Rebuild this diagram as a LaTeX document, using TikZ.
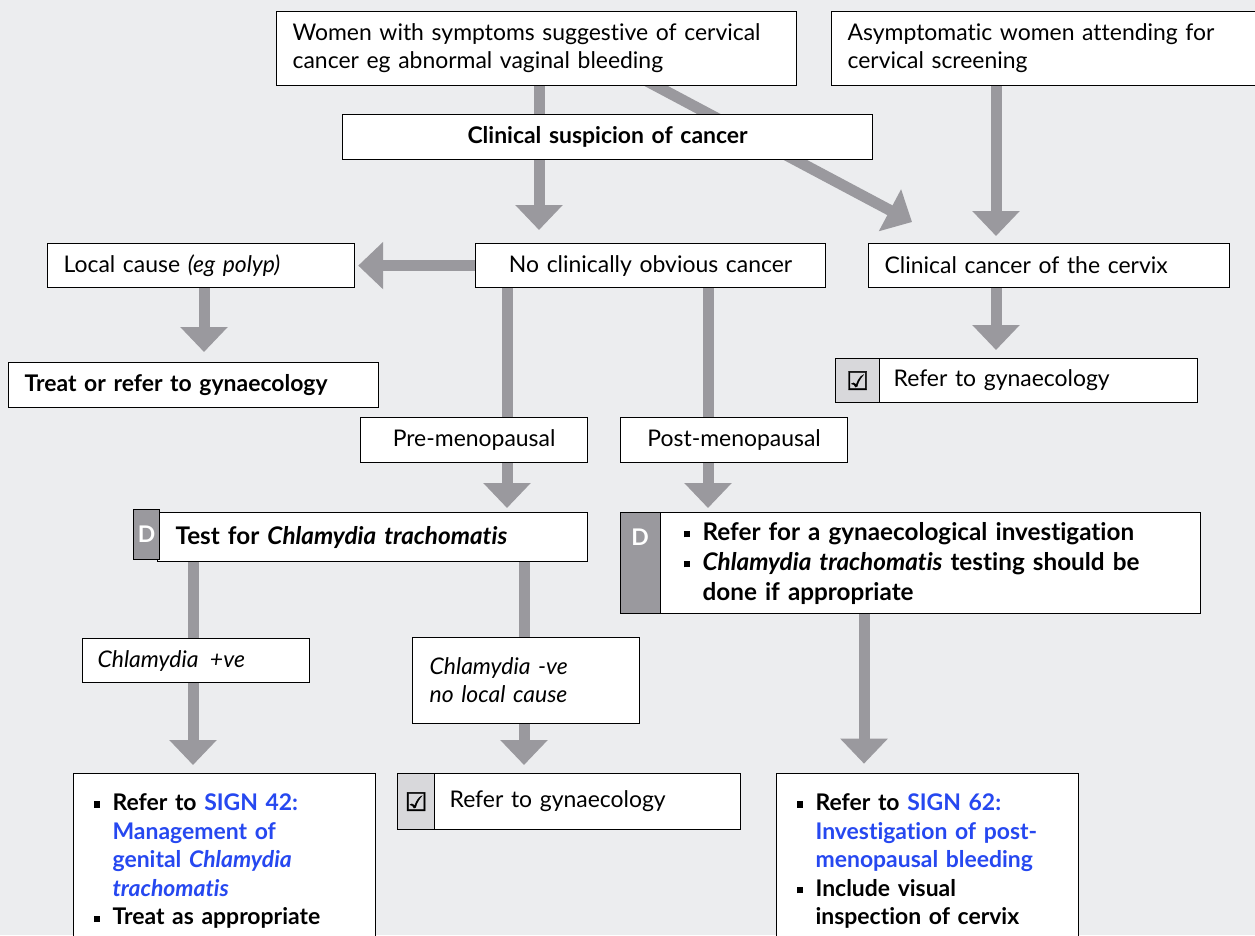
\documentclass[tikz,border=0pt]{standalone}
\usepackage{fontspec}
\setmainfont{Lato}[Ligatures={NoCommon,NoRequired,NoContextual}]
\newfontfamily\symfont{DejaVu Sans}[FakeBold=1.6]
\usetikzlibrary{arrows.meta,calc}
\pgfdeclarelayer{back}\pgfdeclarelayer{conn}
\pgfsetlayers{back,conn,main}
\definecolor{bgc}{RGB}{236,237,239}
\definecolor{ag}{RGB}{154,153,158}
\definecolor{lg}{RGB}{216,216,219}
\definecolor{sign}{RGB}{38,72,240}
\newcommand\xbox[8]{%
  \pgfmathsetmacro\bxw{(#4-#2)*0.75}%
  \pgfmathsetmacro\bxh{(#5-#3)*0.75}%
  \pgfmathsetmacro\bxt{(#4-#2-2*#6)*0.75}%
  \pgfmathsetmacro\bxp{#6*0.75}%
  \node[box,anchor=north west,inner xsep=\bxp pt,text width=\bxt pt,minimum width=\bxw pt,minimum height=\bxh pt,#7] (#1) at (#2,#3) {#8};}
\newcommand\bul{\makebox[14.25pt][l]{\rule[2pt]{4.8pt}{4.8pt}}}
\newcommand\ind{\hspace*{14.25pt}}
\begin{document}
\begin{tikzpicture}[x=0.75pt,y=-0.75pt,
  box/.style={draw=black,line width=0.9pt,fill=white,inner ysep=0pt,font=\fontsize{17.2}{21}\selectfont},
  dcell/.style={fill=ag,text=white,font=\fontsize{17.2}{21}\selectfont\bfseries,align=center},
  ccell/.style={fill=lg,font=\fontsize{19}{18}\symfont,align=center},
  arr/.style={draw=ag,line width=8.25pt,-{Triangle[width=34.5pt,length=18.75pt]}},
  ln/.style={draw=ag,line width=8.25pt}]
\begin{pgfonlayer}{back}
\fill[bgc] (0,0) rectangle (1255,935);
\end{pgfonlayer}
\useasboundingbox (0,0) rectangle (1255,935);
% boxes
\xbox{women}{276}{11}{796}{85}{16}{align=left}{Women with symptoms suggestive of cervical\\cancer eg abnormal vaginal bleeding}
\xbox{asym}{831}{11}{1262}{85}{16}{align=left}{Asymptomatic women attending for\\cervical screening}
\xbox{susp}{342}{114}{872}{159}{10}{align=center}{\textbf{Clinical suspicion of cancer}}
\xbox{local}{47}{243}{354}{287}{16}{align=left}{Local cause \textit{(eg polyp)}}
\xbox{noob}{475}{243}{825}{287}{10}{align=center}{No clinically obvious cancer}
\xbox{cervix}{868}{243}{1229}{287}{16}{align=left}{Clinical cancer of the cervix}
\xbox{treat}{8}{362}{378}{407}{16}{align=left}{\textbf{Treat or refer to gynaecology}}
\xbox{referR}{835}{358}{1197}{402}{58}{align=left}{Refer to gynaecology}
\xbox{referRc}{835}{358}{879}{402}{0}{ccell}{☑}
\xbox{pre}{360}{417}{587}{462}{8}{align=center}{Pre-menopausal}
\xbox{post}{620}{417}{847}{462}{8}{align=center}{Post-menopausal}
\xbox{test}{157}{512}{587}{561}{18}{align=left,font=\fontsize{18.2}{21}\selectfont}{\textbf{Test for \textit{Chlamydia trachomatis}}}
\xbox{testD}{133}{509}{159}{559}{0}{box,dcell}{D}
\xbox{postD}{620}{512}{1200}{613}{20}{align=left,font=\fontsize{18.2}{22.5}\selectfont\bfseries}{\hspace*{32.25pt}\bul Refer for a gynaecological investigation\\\hspace*{32.25pt}\bul\textit{Chlamydia trachomatis} testing should be\\\hspace*{46.5pt}done if appropriate}
\xbox{postDc}{620}{512}{660}{613}{0}{box,fill=ag}{}
\node[dcell,inner sep=0pt] (postDl) at (640,537) {D};
\xbox{cpos}{82}{638}{309}{682}{15}{align=left}{\textit{Chlamydia \,+ve}}
\xbox{cneg}{412}{637}{639}{723}{17}{align=left}{\textit{Chlamydia -ve}\\\textit{no local cause}}
\xbox{botL}{73}{773}{375}{948}{20}{align=left,font=\fontsize{17.2}{21.4}\selectfont\bfseries}{\bul Refer to \textcolor{sign}{SIGN 42:}\\\ind\textcolor{sign}{Management of}\\\ind\textcolor{sign}{genital \textit{Chlamydia}}\\\ind\textcolor{sign}{\textit{trachomatis}}\\\bul Treat as appropriate}
\xbox{refM}{397}{773}{740}{829}{52}{align=left}{Refer to gynaecology}
\xbox{refMc}{397}{773}{434}{829}{0}{ccell}{☑}
\xbox{botR}{776}{773}{1078}{948}{20}{align=left,font=\fontsize{17.2}{21.4}\selectfont\bfseries}{\bul Refer to \textcolor{sign}{SIGN 62:}\\\ind\textcolor{sign}{Investigation of post-}\\\ind\textcolor{sign}{menopausal bleeding}\\\bul Include visual\\\ind inspection of cervix}
% connector x positions
\coordinate (xA) at (539,0);
\coordinate (xB) at (996,0);
\coordinate (xC) at (204,0);
\coordinate (xE) at (507,0);
\coordinate (xF) at (708,0);
\coordinate (xG) at (193,0);
\coordinate (xH) at (524,0);
\coordinate (xK) at (864,0);
\coordinate (dS) at (644,79.5);
\coordinate (dT) at (912,222);
\begin{pgfonlayer}{conn}
\draw[ln] (women.south -| xA) -- (susp.north -| xA);
\draw[arr,shorten >=9.75pt] (susp.south -| xA) -- (noob.north -| xA);
\draw[arr] (dS) -- (dT);
\draw[arr,shorten >=5.25pt] (asym.south -| xB) -- (cervix.north -| xB);
\draw[arr,shorten >=6pt] (cervix.south -| xB) -- (referR.north -| xB);
\draw[arr,shorten >=2.25pt] (noob.west) -- (local.east);
\draw[arr,shorten >=7.5pt] (local.south -| xC) -- (treat.north -| xC);
\draw[ln] (noob.south -| xE) -- (pre.north -| xE);
\draw[ln] (noob.south -| xF) -- (post.north -| xF);
\draw[arr,shorten >=3pt] (pre.south -| xE) -- (test.north -| xE);
\draw[arr,shorten >=3pt] (post.south -| xF) -- (postD.north -| xF);
\draw[ln] (test.south -| xG) -- (cpos.north -| xG);
\draw[arr,shorten >=6pt] (cpos.south -| xG) -- (botL.north -| xG);
\draw[ln] (test.south -| xH) -- (cneg.north -| xH);
\draw[arr,shorten >=6pt] (cneg.south -| xH) -- (refM.north -| xH);
\draw[arr,shorten >=7pt] (postD.south -| xK) -- (botR.north -| xK);
\end{pgfonlayer}
\end{tikzpicture}
\end{document}
